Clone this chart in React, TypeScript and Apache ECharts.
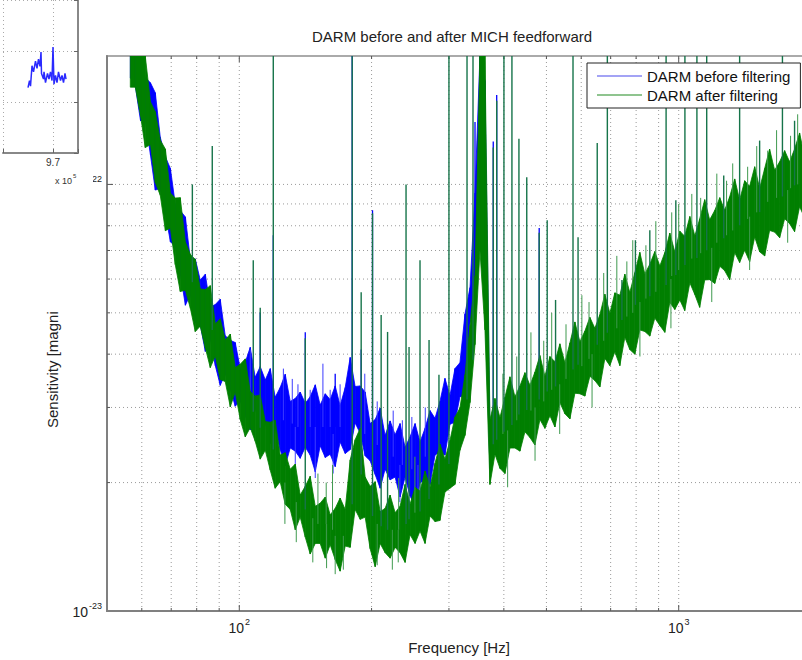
import React, { useEffect, useRef } from "react";
import * as echarts from "echarts";

const FONT = "'Liberation Sans', Arial, Helvetica, sans-serif";
// magnitudes are kept in units of 1e-23 (the axis labels add the exponent)
const EXP_OFFSET = -23;
const X_MIN = 50;
const X_MAX = 2000;
const Y_MIN = 1;
const Y_MAX = 20;

const chartTitle = "DARM before and after MICH feedforward";
const xAxisName = "Frequency [Hz]";
const yAxisName = "Sensitivity [magni";
const beforeName = "DARM before filtering";
const afterName = "DARM after filtering";

// grid / tick positions
const xGridTicks = [60, 70, 80, 90, 100, 200, 300, 400, 500, 600, 700, 800, 900, 1000];
const xMajorTicks = [100, 1000];
const yGridTicks = [2, 3, 4, 5, 6, 7, 8, 9, 10]; // x 1e-23
const yMajorTicks = [10];

// spectrum band samples (Hz) shared by both traces
const bandFreq = [
  56.5, 58.0, 59.6, 61.1, 62.8, 64.4, 66.1, 67.9, 69.7, 71.5,
  73.4, 75.4, 77.4, 79.4, 81.5, 83.7, 85.9, 88.2, 90.5, 92.9,
  95.4, 97.9, 100.5, 103.2, 105.9, 108.7, 111.6, 114.6, 117.6, 120.7,
  123.9, 127.2, 130.6, 134.1, 137.6, 141.3, 145.0, 148.9, 152.8, 156.9,
  161.0, 165.3, 169.6, 174.2, 178.8, 183.5, 188.4, 193.4, 198.5, 203.8,
  209.2, 214.7, 220.4, 226.3, 232.2, 238.4, 244.7, 251.2, 257.8, 264.7,
  271.7, 278.9, 286.2, 293.8, 301.6, 309.6, 317.8, 326.3, 335.0, 343.9,
  352.9, 362.3, 371.9, 381.8, 391.9, 402.3, 413.0, 423.9, 435.2, 446.7,
  458.6, 470.7, 483.2, 496.0, 509.2, 522.7, 536.5, 550.8, 565.4, 580.4,
  595.8, 611.6, 627.8, 644.4, 661.5, 679.1, 697.1, 715.6, 734.6, 754.0,
  774.0, 794.6, 815.6, 837.3, 859.5, 882.3, 905.7, 929.7, 954.4, 979.7,
  1006, 1032, 1060, 1088, 1116, 1146, 1176, 1208, 1240, 1272,
  1306, 1341, 1376, 1413, 1450, 1489, 1528, 1569, 1610, 1653,
  1697, 1742, 1788, 1835, 1884, 1934, 1995,
];

// DARM after filtering: upper / lower edge of the noise band (x 1e-23)
const afterHi = [
  26.5, 22.4, 20.6, 20.0, 15.6, 14.8, 12.7, 12.1, 9.55, 9.29,
  9.31, 7.33, 6.85, 6.67, 5.69, 5.67, 5.79, 4.71, 4.84, 4.32,
  4.46, 3.72, 3.79, 3.9, 3.27, 3.19, 3.21, 2.78, 2.77, 2.8,
  2.32, 2.35, 2.15, 2.21, 1.87, 1.96, 2.07, 1.76, 1.79, 1.85,
  1.68, 1.74, 1.84, 1.73, 2.26, 2.52, 2.68, 2.06, 1.96, 2.01,
  1.71, 1.74, 1.87, 1.7, 1.76, 1.98, 1.78, 1.95, 1.91, 2.13,
  1.95, 2.22, 2.46, 2.27, 2.51, 2.85, 2.99, 3.58, 4.67, 6.11,
  25, 22, 2.81, 3.15, 2.84, 3.17, 3.54, 3.18, 3.37, 3.62,
  3.38, 3.63, 3.97, 3.55, 3.95, 3.84, 4.23, 3.82, 4.25, 4.76,
  4.28, 4.53, 4.88, 4.6, 4.95, 5.53, 4.99, 5.57, 5.5, 6.16,
  5.58, 6.21, 6.93, 6.17, 6.5, 6.96, 6.44, 6.92, 7.69, 6.95,
  7.77, 7.56, 8.41, 7.57, 8.3, 9.21, 8.26, 8.69, 9.31, 8.7,
  9.35, 10.3, 9.19, 10.2, 9.9, 11.0, 9.79, 10.9, 12.1, 10.8,
  11.3, 12.0, 11.3, 12.1, 13.2, 11.6, 12.7,
];
const afterLo = [
  16.9, 16.9, 14.5, 12.2, 12.4, 10.1, 9.43, 7.79, 7.9, 6.49,
  5.61, 5.65, 5.12, 4.52, 4.65, 4.14, 3.72, 3.96, 3.49, 3.45,
  3.01, 3.26, 2.81, 2.56, 2.69, 2.5, 2.27, 2.38, 2.14, 1.94,
  2.01, 1.78, 1.73, 1.55, 1.66, 1.49, 1.36, 1.44, 1.44, 1.33,
  1.43, 1.32, 1.24, 1.42, 1.41, 1.73, 1.64, 1.66, 1.4, 1.27,
  1.44, 1.37, 1.33, 1.41, 1.37, 1.3, 1.51, 1.44, 1.54, 1.44,
  1.67, 1.62, 1.63, 1.9, 1.94, 1.98, 2.38, 2.58, 3.08, 4.21,
  7.01, 4.56, 1.98, 2.33, 2.16, 2.1, 2.41, 2.41, 2.37, 2.63,
  2.55, 2.45, 2.81, 2.68, 2.87, 2.7, 3.08, 2.9, 2.82, 3.24,
  3.23, 3.19, 3.55, 3.47, 3.35, 3.91, 3.76, 4.05, 3.76, 4.38,
  4.1, 4.0, 4.56, 4.52, 4.41, 4.86, 4.67, 4.5, 5.29, 5.09,
  5.36, 5.06, 5.88, 5.52, 5.15, 5.97, 5.98, 5.86, 6.43, 6.28,
  5.98, 6.92, 6.56, 7.01, 6.59, 7.53, 6.95, 6.8, 7.8, 7.73,
  7.5, 8.31, 8.09, 7.75, 8.87, 8.35, 8.88,
];

// DARM before filtering (first 73 band samples, up to ~372 Hz)
const beforeHi = [
  26.5, 23.5, 22.5, 17.8, 17.3, 16.4, 12.9, 11.6, 10.9, 9.0,
  8.68, 8.39, 6.65, 6.69, 5.97, 6.16, 5.15, 5.23, 5.38, 4.42,
  4.31, 4.26, 3.7, 3.83, 4.15, 3.53, 3.74, 3.48, 3.7, 3.17,
  3.34, 3.59, 3.1, 3.15, 3.26, 3.07, 3.18, 3.39, 3.04, 3.23,
  3.13, 3.37, 3.03, 3.34, 3.93, 3.36, 3.37, 3.26, 2.75, 2.81,
  2.99, 2.58, 2.79, 2.59, 2.75, 2.42, 2.56, 2.75, 2.49, 2.68,
  2.95, 2.83, 3.1, 3.51, 3.2, 3.7, 3.82, 4.97, 5.73, 9.55,
  25, 17.5, 2.66,
];
const beforeLo = [
  17.8, 17.0, 14.1, 14.2, 11.7, 9.7, 9.78, 8.53, 7.34, 7.15,
  6.18, 5.21, 5.52, 4.74, 4.69, 4.06, 4.35, 3.76, 3.38, 3.6,
  3.31, 3.02, 3.11, 2.87, 2.66, 2.98, 2.7, 2.76, 2.47, 2.69,
  2.39, 2.19, 2.41, 2.37, 2.28, 2.42, 2.32, 2.12, 2.44, 2.29,
  2.33, 2.18, 2.49, 2.34, 2.39, 2.76, 2.61, 2.31, 2.25, 2.09,
  1.94, 2.15, 2.03, 2.06, 1.85, 2.06, 1.86, 1.76, 2.0, 2.02,
  1.98, 2.32, 2.36, 2.32, 2.74, 2.77, 3.18, 3.2, 4.74, 5.37,
  10.2, 5.36, 2.15,
];

// narrow spectral lines: frequency, foot and peak (x 1e-23)
const afterLineFreq = [
  78.2, 86.8, 107.6, 111.6, 119.5, 141.3, 180.7, 189.4, 201, 210.3,
  217.5, 239.6, 243.4, 257.8, 270.3, 284.7, 300, 329.8, 340.3, 378.4,
  385.3, 400.2, 417.3, 432.9, 451, 481.4, 502, 524.5, 574.7, 590.1,
  652.5, 688, 742.6, 797, 859.5, 936, 985, 1033, 1100, 1158,
  1266, 1376, 1528, 1722, 1835,
];
const afterLineFoot = [
  5.9, 4.56, 2.93, 2.69, 2.39, 1.73, 1.78, 2.09, 1.67, 1.58,
  1.55, 1.6, 1.64, 1.71, 1.83, 1.98, 2.21, 3.13, 3.88, 2.46,
  2.52, 2.63, 2.73, 2.89, 2.96, 3.13, 3.27, 3.36, 3.68, 3.78,
  4.21, 4.49, 4.81, 5.22, 5.47, 5.81, 6.13, 6.47, 6.72, 7.01,
  7.48, 8.02, 8.61, 9.37, 9.95,
];
const afterLinePeak = [
  10.0, 12.3, 6.64, 5.14, 40, 4.36, 40, 5.59, 8.56, 4.94,
  4.51, 10.0, 4.16, 6.64, 4.32, 3.58, 40, 40, 40, 12.2,
  15.7, 40, 40, 12.8, 10.4, 7.7, 8.24, 5.36, 40, 7.52,
  12.5, 40, 5.97, 7.4, 7.81, 40, 9.18, 40, 40, 40,
  10.5, 40, 12.67, 40, 14.1,
];
const beforeLineFreq = [111.6, 119.5, 141.3, 165.3, 180.7, 189.4, 201, 343.9, 378.4, 385.3, 481.4];
const beforeLineFoot = [3.5, 3.3, 2.7, 2.7, 2.9, 2.9, 2.6, 5.0, 2.5, 2.5, 3.1];
const beforeLinePeak = [5.0, 7.6, 4.5, 3.6, 40, 4.1, 8.7, 14, 12.6, 16.2, 7.9];

// short noise excursions at the edges of the bands: frequency, foot, tip (x 1e-23)
const afterFringeFreq = [
  127, 134.8, 147, 151, 157.7, 158, 163, 165.3, 172.5, 206,
  223, 230, 230.5, 251, 398, 408, 428, 461, 471, 493,
  514, 536, 554, 602, 625, 635, 675, 723, 762, 786,
  816, 842, 887, 960, 964, 1000, 1071, 1122, 1189, 1221,
  1285, 1327, 1435, 1450, 1505, 1594, 1670, 1770, 1797, 1865,
];
const afterFringeFoot = [
  2.0, 1.8, 1.65, 1.6, 1.6, 1.6, 1.55, 1.5, 1.5, 1.6,
  1.55, 1.55, 1.55, 1.7, 2.6, 2.65, 2.8, 2.95, 3.0, 3.1,
  3.3, 3.4, 3.5, 3.75, 3.9, 4.0, 4.3, 4.6, 4.9, 5.0,
  5.3, 5.4, 5.6, 6.0, 6.1, 6.3, 6.7, 6.9, 7.1, 7.3,
  7.6, 7.8, 8.3, 8.4, 8.6, 9.1, 9.3, 9.7, 9.8, 10.0,
];
const afterFringeTip = [
  1.6, 1.45, 1.3, 2.1, 2.0, 1.26, 2.2, 1.22, 1.25, 1.28,
  1.25, 1.3, 2.05, 2.3, 3.6, 1.95, 3.95, 4.5, 2.25, 4.3,
  5.0, 2.6, 4.7, 5.5, 5.3, 3.0, 6.2, 6.8, 6.6, 7.4,
  3.95, 7.2, 8.2, 4.6, 8.6, 9.0, 9.5, 9.3, 5.3, 10.6,
  10.2, 11.2, 11.0, 6.3, 12.3, 12.0, 13.4, 7.3, 13.0, 14.6,
];
const beforeFringeFreq = [
  105.9, 126, 132, 134.1, 136, 145, 148.9, 155, 161, 163.5,
  169.6, 193, 206, 224, 232, 235, 247, 255, 265,
];
const beforeFringeFoot = [
  3.2, 2.8, 2.75, 2.7, 2.7, 2.7, 2.7, 2.7, 2.7, 2.6,
  2.7, 2.6, 2.45, 2.3, 2.2, 2.2, 2.15, 2.2, 2.3,
];
const beforeFringeTip = [
  4.1, 3.7, 3.5, 2.15, 3.4, 3.3, 2.05, 3.8, 3.3, 2.1,
  3.4, 3.6, 3.1, 2.95, 1.8, 2.8, 2.85, 1.78, 3.0,
];

// fragment of a neighbouring panel (upper left)
const insetX = [
  9.65, 9.653, 9.655, 9.658, 9.661, 9.665, 9.668, 9.671, 9.674, 9.676,
  9.677, 9.681, 9.682, 9.685, 9.689, 9.692, 9.695, 9.698, 9.7, 9.702,
  9.705, 9.708, 9.711, 9.715, 9.718, 9.721, 9.724, 9.726,
];
const insetY = [
  1.28, 1.42, 1.31, 1.71, 1.59, 1.8, 1.66, 1.84, 1.7, 1.98,
  1.56, 1.45, 1.59, 1.38, 1.56, 1.45, 1.59, 1.42, 2.08, 1.35,
  1.52, 1.38, 1.59, 1.42, 1.52, 1.38, 1.56, 1.45,
];

const clampY = (v: number) => Math.min(Math.max(v, Y_MIN), Y_MAX);

function bandData(hi: number[], lo: number[]) {
  const out: number[][] = [];
  for (let i = 0; i < hi.length - 1; i++) {
    out.push([bandFreq[i], lo[i], hi[i], bandFreq[i + 1], lo[i + 1], hi[i + 1]]);
  }
  return out;
}

function lineData(freq: number[], foot: number[], peak: number[]) {
  return freq.map((f, i) => [f, foot[i], peak[i]]);
}

function bandRender(color: string) {
  return (_p: any, api: any) => {
    const a = api.coord([api.value(0), clampY(api.value(2))]);
    const b = api.coord([api.value(3), clampY(api.value(5))]);
    const c = api.coord([api.value(3), clampY(api.value(4))]);
    const d = api.coord([api.value(0), clampY(api.value(1))]);
    return {
      type: "polygon",
      shape: { points: [a, b, c, d] },
      style: { fill: color, stroke: color, lineWidth: 0.8 },
    };
  };
}

function lineRender(color: string, width: number) {
  return (_p: any, api: any) => {
    const a = api.coord([api.value(0), clampY(api.value(1))]);
    const b = api.coord([api.value(0), clampY(api.value(2))]);
    return {
      type: "line",
      shape: { x1: a[0], y1: a[1], x2: b[0], y2: b[1] },
      style: { stroke: color, lineWidth: width },
    };
  };
}

const GRID_DOT = "#9a9a9a";
const TICK = "#555";

const xGridRender = (_p: any, api: any) => {
  const f = api.value(0);
  const bot = api.coord([f, Y_MIN]);
  const top = api.coord([f, Y_MAX]);
  const len = xMajorTicks.indexOf(f) >= 0 ? 6 : 3;
  return {
    type: "group",
    children: [
      { type: "line", shape: { x1: bot[0], y1: bot[1], x2: top[0], y2: top[1] }, style: { stroke: GRID_DOT, lineWidth: 1, lineDash: [1, 3] } },
      { type: "line", shape: { x1: bot[0], y1: bot[1], x2: bot[0], y2: bot[1] - len }, style: { stroke: TICK, lineWidth: 1 } },
      { type: "line", shape: { x1: top[0], y1: top[1], x2: top[0], y2: top[1] + len }, style: { stroke: TICK, lineWidth: 1 } },
    ],
  };
};

const yGridRender = (_p: any, api: any) => {
  const v = api.value(1);
  const l = api.coord([X_MIN, v]);
  const r = api.coord([X_MAX, v]);
  const len = yMajorTicks.indexOf(v) >= 0 ? 6 : 3;
  return {
    type: "group",
    children: [
      { type: "line", shape: { x1: l[0], y1: l[1], x2: r[0], y2: r[1] }, style: { stroke: GRID_DOT, lineWidth: 1, lineDash: [1, 3] } },
      { type: "line", shape: { x1: l[0], y1: l[1], x2: l[0] + len, y2: l[1] }, style: { stroke: TICK, lineWidth: 1 } },
    ],
  };
};

const powLabel = (offset: number) => (v: number) => {
  const l = Math.log10(v);
  const e = Math.round(l);
  if (Math.abs(l - e) > 1e-6) return "";
  return `{b|10}{s|${e + offset}}`;
};

const powRich = {
  b: { fontSize: 14, lineHeight: 16, fontFamily: FONT, color: "#222", verticalAlign: "bottom" },
  s: { fontSize: 9, lineHeight: 10, padding: [0, 0, 9, 1], fontFamily: FONT, color: "#222", verticalAlign: "bottom" },
};

const BLUE = "#0000ff";
const BLUE_FRINGE = "#3c3cff";
const GREEN = "#007f00";
const GREEN_FRINGE = "#3f9a4f";
const GREEN_LINE = "#16744a";

const cs = (extra: any) => ({
  type: "custom",
  silent: true,
  xAxisIndex: 0,
  yAxisIndex: 0,
  encode: { x: 0, y: 1 },
  ...extra,
});

const option: any = {
  animation: false,
  backgroundColor: "#fff",
  title: {
    text: chartTitle,
    left: 312,
    top: 29,
    padding: 0,
    textStyle: { fontSize: 15, fontWeight: "normal", color: "#222", fontFamily: FONT },
  },
  legend: {
    orient: "vertical",
    left: 587,
    top: 63,
    padding: [4, 10, 4, 10],
    itemGap: 1,
    itemWidth: 45,
    itemHeight: 2,
    borderColor: "#222",
    borderWidth: 1,
    backgroundColor: "#fff",
    selectedMode: false,
    z: 20,
    textStyle: { fontSize: 15, lineHeight: 18, color: "#111", fontFamily: FONT },
    data: [
      { name: beforeName, icon: "rect", itemStyle: { color: "#a3a3f5" } },
      { name: afterName, icon: "rect", itemStyle: { color: "#8fc48f" } },
    ],
  },
  grid: [
    { left: 107, top: 56, right: 19, bottom: 48, show: true, borderColor: "#aaaaaa", borderWidth: 2 },
    { left: -15, top: -20, width: 93, height: 173 },
  ],
  xAxis: [
    {
      type: "log",
      logBase: 10,
      min: X_MIN,
      max: X_MAX,
      gridIndex: 0,
      name: xAxisName,
      nameLocation: "middle",
      nameGap: 29,
      nameTextStyle: { fontSize: 15, color: "#222", fontFamily: FONT },
      axisLine: { show: true, lineStyle: { color: "#808080", width: 2 } },
      axisTick: { show: false },
      splitLine: { show: false },
      axisLabel: { formatter: powLabel(0), rich: powRich, margin: 8 },
    },
    {
      type: "value",
      gridIndex: 1,
      min: 9.6,
      max: 9.75,
      interval: 0.1,
      z: 60,
      axisLine: { show: true, lineStyle: { color: "#888", width: 2 } },
      axisTick: { show: true, inside: true, length: 4, lineStyle: { color: "#666" } },
      splitLine: { show: true, lineStyle: { color: "#aaa", type: [1, 3] } },
      axisLabel: {
        formatter: (v: number) => (Math.abs(v - 9.7) < 1e-6 ? "9.7" : ""),
        fontSize: 10,
        color: "#333",
        margin: 4,
        fontFamily: FONT,
      },
    },
  ],
  yAxis: [
    {
      type: "log",
      logBase: 10,
      min: Y_MIN,
      max: Y_MAX,
      gridIndex: 0,
      axisLine: { show: true, lineStyle: { color: "#808080", width: 2 } },
      axisTick: { show: false },
      splitLine: { show: false },
      axisLabel: { formatter: powLabel(EXP_OFFSET), rich: powRich, margin: 5 },
    },
    {
      type: "value",
      gridIndex: 1,
      position: "right",
      min: 0,
      max: 3,
      interval: 1,
      z: 60,
      axisLine: { show: true, lineStyle: { color: "#888", width: 2 } },
      axisTick: { show: true, inside: true, length: 4, lineStyle: { color: "#666" } },
      splitLine: { show: true, lineStyle: { color: "#aaa", type: [1, 3] } },
      axisLabel: { show: false },
    },
  ],
  graphic: {
    elements: [
      { type: "rect", shape: { x: 0, y: 0, width: 93, height: 300 }, style: { fill: "#fff" }, z: 50 },
      {
        type: "text", x: 55, y: 181, z: 70,
        style: { text: "x 10", fontSize: 9, fontFamily: FONT, fill: "#333", textAlign: "left", textVerticalAlign: "middle" },
      },
      {
        type: "text", x: 73, y: 176, z: 70,
        style: { text: "5", fontSize: 6, fontFamily: FONT, fill: "#333", textAlign: "left", textVerticalAlign: "middle" },
      },
      {
        type: "text", x: 52, y: 428, rotation: Math.PI / 2, z: 70,
        style: { text: yAxisName, fontSize: 15, fontFamily: FONT, fill: "#222", textAlign: "left", textVerticalAlign: "middle" },
      },
    ],
  },
  series: [
    cs({ name: "xgrid", clip: false, data: xGridTicks.map((f) => [f, Y_MIN]), renderItem: xGridRender }),
    cs({ name: "ygrid", clip: false, data: yGridTicks.map((v) => [X_MIN, v]), renderItem: yGridRender }),
    cs({
      name: beforeName, clip: true, itemStyle: { color: BLUE },
      data: bandData(beforeHi, beforeLo), renderItem: bandRender(BLUE),
    }),
    cs({
      name: "before fringe", clip: true,
      data: lineData(beforeFringeFreq, beforeFringeFoot, beforeFringeTip), renderItem: lineRender(BLUE_FRINGE, 1),
    }),
    cs({
      name: "before lines", clip: true,
      data: lineData(beforeLineFreq, beforeLineFoot, beforeLinePeak), renderItem: lineRender(BLUE, 1.3),
    }),
    cs({
      name: afterName, clip: true, itemStyle: { color: GREEN },
      data: bandData(afterHi, afterLo), renderItem: bandRender(GREEN),
    }),
    cs({
      name: "after fringe", clip: true,
      data: lineData(afterFringeFreq, afterFringeFoot, afterFringeTip), renderItem: lineRender(GREEN_FRINGE, 1),
    }),
    cs({
      name: "after lines", clip: true,
      data: lineData(afterLineFreq, afterLineFoot, afterLinePeak), renderItem: lineRender(GREEN_LINE, 1.4),
    }),
    {
      name: "inset", type: "line", silent: true,
      xAxisIndex: 1, yAxisIndex: 1, z: 60,
      showSymbol: false,
      lineStyle: { color: "#2a2aff", width: 1.5 },
      data: insetX.map((x, i) => [x, insetY[i]]),
    },
  ],
};

export default function App() {
  const ref = useRef<HTMLDivElement>(null);
  useEffect(() => {
    const chart = echarts.init(ref.current as HTMLDivElement, undefined, { renderer: "svg" });
    chart.setOption(option);
    return () => chart.dispose();
  }, []);
  return (
    <div style={{ position: "fixed", left: 0, top: 0, width: 802, height: 660, overflow: "hidden", background: "#fff" }}>
      <div ref={ref} style={{ width: 830, height: 660 }} />
    </div>
  );
}
